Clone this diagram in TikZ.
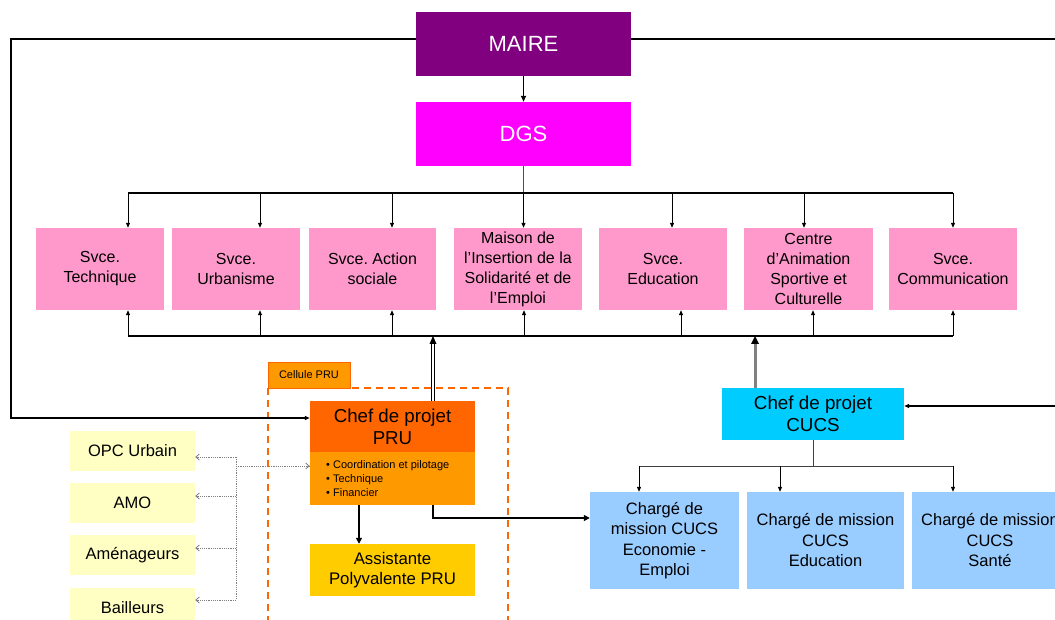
\documentclass[tikz,border=0pt]{standalone}
\usepackage{fontspec}
\setmainfont{Liberation Sans}
\usetikzlibrary{arrows.meta}
\frenchspacing
\definecolor{cmaire}{HTML}{800080}
\definecolor{cdgs}{HTML}{FF00FF}
\definecolor{csvc}{HTML}{FF99CC}
\definecolor{cprutop}{HTML}{FF6600}
\definecolor{cprubot}{HTML}{FF9900}
\definecolor{cassist}{HTML}{FFCC00}
\definecolor{ccucs}{HTML}{00CCFF}
\definecolor{ccharge}{HTML}{99CCFF}
\definecolor{cext}{HTML}{FFFFC4}
\definecolor{cdots}{HTML}{808080}
\tikzset{
  box/.style={inner sep=0pt, align=center, text=black},
  topbox/.style={box, font=\fontsize{22}{26}\selectfont, text=white, minimum width=215pt, minimum height=64pt},
  svcbox/.style={box, fill=csvc, font=\fontsize{16}{20}\selectfont, minimum height=82pt},
  chgbox/.style={box, fill=ccharge, font=\fontsize{16.5}{20.5}\selectfont, minimum height=97pt},
  extbox/.style={box, fill=cext, font=\fontsize{16.5}{20}\selectfont, minimum width=125pt, minimum height=40pt},
  tip/.style={-{Triangle[length=5pt,width=4pt]}},
  bus/.style={line width=1.2pt},
  thin/.style={line width=0.8pt},
  dots/.style={cdots, line width=0.8pt, dash pattern=on 1.2pt off 1pt, -{Straight Barb[length=3.5pt,width=6pt]}},
}
\begin{document}
\begin{tikzpicture}[x=1pt,y=-1pt]
\useasboundingbox (0,0) rectangle (1055,620);
\clip (0,0) rectangle (1055,620);
% top
\node[topbox, fill=cmaire] (maire) at (523.5,44) {MAIRE};
\node[topbox, fill=cdgs] (dgs) at (523.5,134) {DGS};
% services
\node[svcbox, minimum width=128pt] (s1) at (100,269) {Svce.\\Technique};
\node[svcbox, minimum width=128pt] (s2) at (236,269) {Svce.\\Urbanisme};
\node[svcbox, minimum width=127pt] (s3) at (372.5,269) {Svce. Action\\sociale};
\node[svcbox, minimum width=128pt] (s4) at (518,269) {Maison de\\l'Insertion de la\\Solidarité et de\\l'Emploi};
\node[svcbox, minimum width=128pt] (s5) at (663,269) {Svce.\\Education};
\node[svcbox, minimum width=129pt] (s6) at (808.5,269) {Centre\\d'Animation\\Sportive et\\Culturelle};
\node[svcbox, minimum width=128pt] (s7) at (953,269) {Svce.\\Communication};
% Cellule PRU
\draw[cprutop, line width=1.5pt, dash pattern=on 7pt off 5pt] (268,388) -- (508,388) -- (508,640);
\draw[cprutop, line width=1.5pt, dash pattern=on 7pt off 5pt] (268,388) -- (268,640);
\node[box, fill=cprubot, draw=cprutop, line width=0.8pt, minimum width=82pt, minimum height=26pt, font=\fontsize{11}{13}\selectfont] (cell) at (309,375) {Cellule PRU};
\node[box, fill=cprutop, minimum width=165pt, minimum height=51pt, font=\fontsize{18.7}{22}\selectfont] (pru) at (392.5,426.5) {Chef de projet\\PRU};
\node[box, fill=cprubot, minimum width=165pt, minimum height=53pt] (prub) at (392.5,478.5) {};
\node[box, anchor=west, align=left, font=\fontsize{11}{13.9}\selectfont] (prut) at (326,478.5) {\textbullet\ Coordination et pilotage\\\textbullet\ Technique\\\textbullet\ Financier};
\node[box, fill=cassist, minimum width=165pt, minimum height=52pt, font=\fontsize{16.8}{20}\selectfont] (assist) at (392.5,570) {Assistante\\Polyvalente PRU};
% external
\node[extbox] (opc) at (132.5,451) {OPC Urbain};
\node[extbox] (amo) at (132.5,503) {AMO};
\node[extbox] (amen) at (132.5,555) {Aménageurs};
\node[extbox] (bail) at (132.5,608) {Bailleurs};
% CUCS
\node[box, fill=ccucs, minimum width=182pt, minimum height=52pt, font=\fontsize{18.8}{22}\selectfont] (cucs) at (813,414) {Chef de projet\\CUCS};
\node[chgbox, minimum width=149pt] (c1) at (664.5,540.5) {Chargé de\\mission CUCS\\Economie -\\Emploi};
\node[chgbox, minimum width=157pt] (c2) at (825.5,540.5) {Chargé de mission\\CUCS\\Education};
\node[chgbox, minimum width=156pt] (c3) at (990,540.5) {Chargé de mission\\CUCS\\Santé};
% bus coordinates
\coordinate (tb) at (523.5,193);
\coordinate (lb) at (128,336);
\coordinate (cb) at (813,466);
% DGS to services
\draw[thin, black!70] (dgs.south) -- (tb);
\draw[bus] (128,193) -- (953,193);
\foreach \x/\n in {128/s1,260/s2,392/s3,523.5/s4,672/s5,804/s6,953/s7}{
  \draw[thin, tip] (\x,193) -- (\x,193 |- \n.north);
}
% lower bus
\draw[bus] (lb) -- (953,336);
\foreach \x/\n in {128/s1,260/s2,392/s3,524/s4,681/s5,813/s6,953/s7}{
  \draw[thin, tip] (\x,336) -- (\x,336 |- \n.south);
}
% MAIRE -> DGS
\draw[line width=1.8pt, -{Triangle[length=6pt,width=5pt]}] (maire) -- (dgs);
% MAIRE -> PRU
\draw[line width=1.3pt, tip] ([yshift=5pt]maire.west) -- (11,39) -- (11,418) -- (pru.west |- 0,418);
% MAIRE -> CUCS
\draw[line width=1.3pt, tip] ([yshift=5pt]maire.east) -- (1060,39) -- (1060,406) -- (cucs.east |- 0,406);
% PRU up (double)
\draw[double=white, double distance=2pt, line width=0.9pt] (433,401) -- (433,343);
\fill (433,336) -- (429.5,344) -- (436.5,344) -- cycle;
% CUCS up (thick gray)
\draw[line width=3pt, black!50] (755,388) -- (755,343);
\fill (755,336) -- (751,344) -- (759,344) -- cycle;
% PRU -> assistante
\draw[line width=2pt, -{Triangle[length=6pt,width=6pt]}] (359,505) -- (assist.north -| 359,0);
% PRU -> charge c1
\draw[line width=2pt, -{Triangle[length=6pt,width=6pt]}] (433,505) -- (433,518) -- (c1.west |- 0,518);
% CUCS bus
\draw[thin, black!75] (cucs.south) -- (cb);
\draw[thin, black!75] (639,466) -- (953,466);
\foreach \x/\n in {639/c1,780/c2,953/c3}{
  \draw[thin, tip] (\x,466) -- (\x,466 |- \n.north);
}
% dotted external links
\draw[cdots, line width=0.8pt, dash pattern=on 1.2pt off 1pt] (236,457) -- (236,600);
\draw[dots] (236,457) -- (opc.east |- 0,457);
\draw[dots] (236,496) -- (amo.east |- 0,496);
\draw[dots] (236,548) -- (amen.east |- 0,548);
\draw[dots] (236,600) -- (bail.east |- 0,600);
\draw[dots] (236,466) -- (prub.west |- 0,466);
\end{tikzpicture}
\end{document}
